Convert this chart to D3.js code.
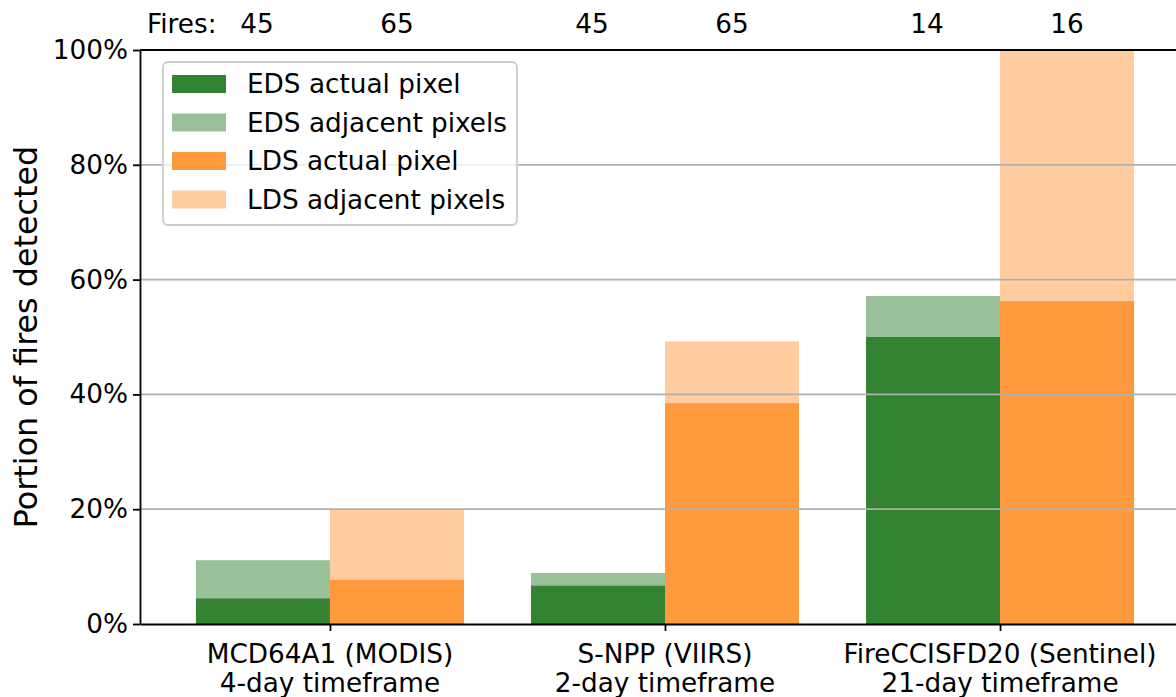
<!DOCTYPE html>
<html>
<head>
<meta charset="utf-8">
<script src="https://cdn.jsdelivr.net/npm/d3@7"></script>
<style>
  html, body { margin: 0; padding: 0; background: #fff; }
  svg { display: block; font-family: "DejaVu Sans", sans-serif; }
</style>
</head>
<body>
<svg id="chart" width="1176" height="697"></svg>
<script>
// ---- data ----
const products = ["MCD64A1 (MODIS)", "S-NPP (VIIRS)", "FireCCISFD20 (Sentinel)"];
const timeframes = ["4-day timeframe", "2-day timeframe", "21-day timeframe"];
const edsFires = [45, 45, 14];
const ldsFires = [65, 65, 16];
const edsActual = [2 / 45, 3 / 45, 7 / 14];       // EDS actual pixel
const edsAdjacent = [5 / 45, 4 / 45, 8 / 14];     // EDS actual + adjacent pixels (total)
const ldsActual = [5 / 65, 25 / 65, 9 / 16];      // LDS actual pixel
const ldsAdjacent = [13 / 65, 32 / 65, 16 / 16];  // LDS actual + adjacent pixels (total)
const yTicks = [0, 0.2, 0.4, 0.6, 0.8, 1.0];
const legendLabels = ["EDS actual pixel", "EDS adjacent pixels", "LDS actual pixel", "LDS adjacent pixels"];

// ---- style ----
const darkGreen = "#338333", lightGreen = "#99c199";
const darkOrange = "#ff993e", lightOrange = "#ffcc9f";
const legendColors = [darkGreen, lightGreen, darkOrange, lightOrange];
const fs = 26.3;

const svg = d3.select("#chart");
const barW = 0.4;

const x = d3.scaleLinear().domain([-0.567, 2.567]).range([140, 1190]);
const y = d3.scaleLinear().domain([0, 1]).range([624, 50]);

const gBars = svg.append("g");
function drawBars(vals, offset, color) {
  gBars.selectAll(null).data(vals).enter().append("rect")
    .attr("x", (d, i) => x(i + offset))
    .attr("width", x(barW) - x(0))
    .attr("y", d => y(d))
    .attr("height", d => y(0) - y(d))
    .attr("fill", color);
}
// totals (adjacent) drawn behind actual
drawBars(edsAdjacent, -barW, lightGreen);
drawBars(edsActual, -barW, darkGreen);
drawBars(ldsAdjacent, 0, lightOrange);
drawBars(ldsActual, 0, darkOrange);

// grid above bars (matplotlib default)
svg.append("g").selectAll("line").data(yTicks.filter(t => t > 0 && t < 1)).enter().append("line")
  .attr("x1", x.range()[0]).attr("x2", x.range()[1])
  .attr("y1", d => y(d)).attr("y2", d => y(d))
  .attr("stroke", "#b0b0b0").attr("stroke-width", 1.8);

// y axis
const yAxis = d3.axisLeft(y).tickValues(yTicks).tickFormat(d3.format(".0%")).tickSizeInner(7).tickSizeOuter(0).tickPadding(5);
const gy = svg.append("g").attr("transform", `translate(${x.range()[0]},0)`).call(yAxis);
gy.select(".domain").attr("stroke", "#000").attr("stroke-width", 1.8);
gy.selectAll(".tick line").attr("stroke", "#000").attr("stroke-width", 1.8);
gy.selectAll(".tick text").attr("font-size", fs).attr("font-family", "DejaVu Sans").attr("fill", "#000");

// x axis
const xAxis = d3.axisBottom(x).tickValues([0, 1, 2]).tickFormat("").tickSizeInner(7).tickSizeOuter(0);
const gx = svg.append("g").attr("transform", `translate(0,${y(0)})`).call(xAxis);
gx.select(".domain").attr("stroke", "#000").attr("stroke-width", 1.8);
gx.selectAll(".tick line").attr("stroke", "#000").attr("stroke-width", 1.8);
const xl = svg.append("g").selectAll("text").data(products).enter().append("text")
  .attr("x", (d, i) => x(i)).attr("y", 663)
  .attr("text-anchor", "middle").attr("font-size", fs).attr("fill", "#000");
xl.append("tspan").attr("x", (d, i) => x(i)).text(d => d);
xl.append("tspan").attr("x", (d, i) => x(i)).attr("dy", 28.5).text((d, i) => timeframes[i]);

// top spine
svg.append("line").attr("x1", x.range()[0]).attr("x2", x.range()[1])
  .attr("y1", y(1)).attr("y2", y(1)).attr("stroke", "#000").attr("stroke-width", 1.8);

// fires counts on top
svg.append("text").attr("x", 147).attr("y", 33).attr("font-size", fs).attr("fill", "#000").text("Fires:");
svg.append("g").selectAll("text").data(edsFires).enter().append("text")
  .attr("x", (d, i) => x(i - barW / 2) - 6).attr("y", 33)
  .attr("text-anchor", "middle").attr("font-size", fs).attr("fill", "#000").text(d => d);
svg.append("g").selectAll("text").data(ldsFires).enter().append("text")
  .attr("x", (d, i) => x(i + barW / 2)).attr("y", 33)
  .attr("text-anchor", "middle").attr("font-size", fs).attr("fill", "#000").text(d => d);

// y label
svg.append("text").attr("transform", `translate(37,${(y(0) + y(1)) / 2}) rotate(-90)`)
  .attr("text-anchor", "middle").attr("font-size", 31.8).attr("fill", "#000")
  .text("Portion of fires detected");

// legend
const lg = svg.append("g");
lg.append("rect").attr("x", 163).attr("y", 62).attr("width", 354).attr("height", 163)
  .attr("rx", 5).attr("fill", "#fff").attr("fill-opacity", 0.8)
  .attr("stroke", "#cccccc").attr("stroke-width", 1.8);
legendLabels.forEach((lab, i) => {
  const cy = 84 + i * 38.5;
  lg.append("rect").attr("x", 172).attr("y", cy - 9).attr("width", 54).attr("height", 18).attr("fill", legendColors[i]);
  lg.append("text").attr("x", 247).attr("y", cy + 9).attr("font-size", fs).attr("fill", "#000").text(lab);
});
</script>
</body>
</html>
